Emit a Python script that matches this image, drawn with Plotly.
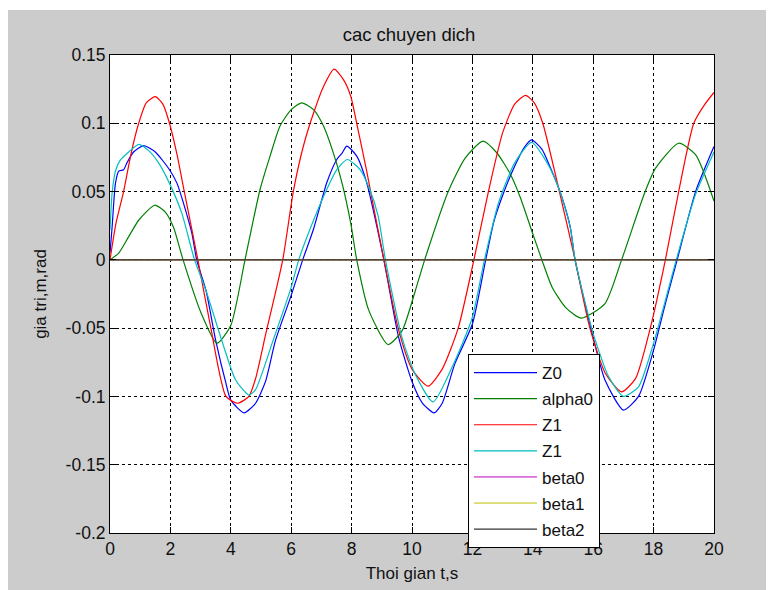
import plotly.graph_objects as go

# ---------------- data ----------------
t_z0 = [0, 0.07, 0.18, 0.29, 0.45, 0.56, 0.78, 1.11, 1.5, 1.97, 2.22, 2.44, 2.71, 2.87, 3.18, 3.5,
        3.84, 4.0, 4.44, 4.82, 5.15, 5.48, 6.0, 6.38, 6.74, 7.18, 7.51, 7.68, 7.84, 8.17, 8.5, 8.88,
        9.07, 9.56, 10.0, 10.35, 10.73, 11.0, 11.42, 12.0, 12.44, 12.72, 13.05, 13.38, 13.71, 13.96,
        14.3, 14.58, 14.9, 15.24, 15.4, 16.0, 16.39, 17.0, 17.5, 18.0, 18.39, 18.78, 19.39, 20]
z0 = [0.005, 0.024, 0.056, 0.065, 0.066, 0.071, 0.079, 0.0837, 0.079, 0.066, 0.056, 0.041, 0.0195,
      0.0, -0.0226, -0.059, -0.0905, -0.1027, -0.112, -0.105, -0.089, -0.059, -0.026, 0.0, 0.0226,
      0.0566, 0.0735, 0.078, 0.0833, 0.076, 0.0566, 0.02, 0.0, -0.057, -0.089, -0.105, -0.112,
      -0.105, -0.076, -0.047, 0.0, 0.0287, 0.05, 0.0676, 0.082, 0.0878, 0.081, 0.0676, 0.05, 0.024,
      0.0, -0.057, -0.088, -0.11, -0.1, -0.066, -0.032, 0.0, 0.05, 0.083]

t_alpha0 = [0, 0.29, 0.62, 0.95, 1.48, 1.83, 2.1, 2.42, 3.0, 3.54, 4.0, 4.47, 4.97, 5.3, 5.63, 6.0,
            6.35, 6.74, 7.07, 7.4, 7.68, 7.97, 8.17, 8.57, 9.21, 9.67, 10.11, 10.42, 11.2, 11.76,
            12.35, 12.8, 13.25, 13.58, 13.97, 14.3, 14.64, 15.09, 15.61, 16.39, 16.94, 17.72, 18.06,
            18.83, 19.39, 20]
alpha0 = [0.0, 0.005, 0.017, 0.029, 0.040, 0.035, 0.024, 0.0, -0.038, -0.061, -0.048, 0.0, 0.0517,
          0.076, 0.098, 0.11, 0.115, 0.11, 0.098, 0.078, 0.0566, 0.027, 0.0, -0.037, -0.062, -0.052,
          -0.0226, 0.0, 0.05, 0.0745, 0.087, 0.0786, 0.063, 0.046, 0.021, 0.0, -0.02, -0.035,
          -0.0427, -0.032, 0.0, 0.05, 0.067, 0.0854, 0.077, 0.043]

t_z1 = [0, 0.2, 0.45, 0.7, 0.95, 1.2, 1.5, 1.75, 1.97, 2.22, 2.46, 2.91, 3.34, 3.84, 4.22, 4.6, 4.82,
        5.15, 5.72, 6.07, 6.4, 6.74, 7.07, 7.42, 7.73, 7.97, 8.17, 8.5, 8.63, 9.07, 9.54, 10.0,
        10.53, 11.0, 11.53, 12.05, 12.53, 13.0, 13.4, 13.76, 14.05, 14.33, 14.88, 15.4, 15.89,
        16.4, 16.94, 17.4, 17.89, 18.39, 18.83, 19.33, 19.7, 20]
z1 = [0.0, 0.027, 0.05, 0.078, 0.1, 0.115, 0.1195, 0.114, 0.1, 0.077, 0.05, 0.0, -0.05, -0.1,
      -0.105, -0.1, -0.087, -0.055, 0.0, 0.05, 0.083, 0.1075, 0.127, 0.1396, 0.132, 0.12, 0.1,
      0.065, 0.05, 0.0, -0.05, -0.08, -0.0925, -0.08, -0.05, 0.0, 0.05, 0.093, 0.114, 0.1204,
      0.115, 0.1, 0.05, 0.0, -0.05, -0.083, -0.0966, -0.087, -0.05, 0.0, 0.05, 0.1, 0.114, 0.1226]

t_z1b = [0, 0.07, 0.18, 0.34, 0.62, 0.95, 1.28, 1.61, 1.97, 2.38, 2.8, 3.18, 3.73, 4.16, 4.6, 4.82,
         5.37, 6.0, 6.25, 6.74, 7.18, 7.51, 7.86, 8.28, 8.6, 8.88, 9.12, 9.67, 10.11, 10.7, 11.42,
         12.0, 12.4, 12.87, 13.4, 13.96, 14.5, 14.9, 15.24, 15.4, 16.0, 16.5, 17.0, 17.5, 18.0,
         18.75, 19.39, 20]
z1b = [0.022, 0.049, 0.065, 0.073, 0.079, 0.0846, 0.08, 0.071, 0.056, 0.034, 0.0, -0.0226, -0.061,
       -0.088, -0.099, -0.095, -0.061, -0.02, 0.0, 0.029, 0.0517, 0.066, 0.0735, 0.066, 0.0517,
       0.032, 0.0, -0.057, -0.084, -0.104, -0.074, -0.042, 0.0, 0.042, 0.071, 0.086, 0.07, 0.05,
       0.024, 0.0, -0.054, -0.085, -0.1, -0.093, -0.061, 0.0, 0.048, 0.079]

t_beta = [0, 20]
beta0 = [0.0, 0.0]
beta1 = [0.0, 0.0]
beta2 = [0.0, 0.0]

x_tickvals = [0, 2, 4, 6, 8, 10, 12, 14, 16, 18, 20]
x_ticktext = ["0", "2", "4", "6", "8", "10", "12", "14", "16", "18", "20"]
y_tickvals = [0.15, 0.1, 0.05, 0, -0.05, -0.1, -0.15, -0.2]
y_ticktext = ["0.15", "0.1", "0.05", "0", "-0.05", "-0.1", "-0.15", "-0.2"]

series = [
    ("Z0", t_z0, z0, "#0000FF", 1.2),
    ("alpha0", t_alpha0, alpha0, "#008000", 1.2),
    ("Z1", t_z1, z1, "#FF0000", 1.2),
    ("Z1", t_z1b, z1b, "#00BFBF", 1.2),
    ("beta0", t_beta, beta0, "#BF00BF", 1.0),
    ("beta1", t_beta, beta1, "#BFBF00", 1.0),
    ("beta2", t_beta, beta2, "#333333", 1.4),
]

FONT = "Liberation Sans, Arial, sans-serif"

fig = go.Figure()
for i, (name, tx, ty, col, lw) in enumerate(series):
    fig.add_trace(go.Scatter(
        x=tx, y=ty, name=name, mode="lines",
        line=dict(color=col, width=lw, shape="spline", smoothing=0.6),
        legendgroup="g%d" % i,
    ))

# page body adds an 8px offset; layout numbers below are in figure coordinates
W, H = 774, 590
L, R, T, B = 102, 68, 47, 65
pw, ph = W - L - R, H - T - B

def px_x(px):
    return (px - L) / pw

def px_y(py):
    return (H - B - py) / ph

fig.update_layout(
    width=W, height=H,
    margin=dict(l=L, r=R, t=T, b=B, pad=0, autoexpand=False),
    paper_bgcolor="#CCCCCC",
    plot_bgcolor="#FFFFFF",
    font=dict(family=FONT, size=17, color="#111111"),
    title=dict(text="cac chuyen dich", xref="container", x=401 / W, xanchor="center",
               y=1 - 27 / H, yanchor="middle", font=dict(size=18.5)),
    showlegend=True,
    legend=dict(
        x=px_x(460), y=px_y(346), xanchor="left", yanchor="top",
        bgcolor="#FFFFFF", bordercolor="#000000", borderwidth=1,
        font=dict(size=17), itemwidth=63, tracegroupgap=1,
        traceorder="grouped",
    ),
    shapes=[
        dict(type="rect", xref="paper", yref="paper", layer="below",
             x0=px_x(-5), x1=px_x(780), y0=px_y(2), y1=px_y(-5),
             fillcolor="#FFFFFF", line=dict(width=0)),
    ],
)

axis_common = dict(
    showline=True, linecolor="#000000", linewidth=1, mirror="ticks",
    ticks="inside", ticklen=6, tickcolor="#000000", automargin=False,
    showgrid=True, gridcolor="#000000", gridwidth=1, griddash="3px,3px",
    zeroline=False, tickfont=dict(size=17.5, color="#111111"),
)

fig.update_xaxes(range=[0, 20], tickvals=x_tickvals, ticktext=x_ticktext,
                 title=dict(text="Thoi gian t,s", font=dict(size=17), standoff=9),
                 **axis_common)
fig.update_yaxes(range=[-0.2, 0.15], tickvals=y_tickvals, ticktext=y_ticktext,
                 title=dict(text="gia tri,m,rad", font=dict(size=17), standoff=14),
                 **axis_common)

fig.write_html("out.html")
